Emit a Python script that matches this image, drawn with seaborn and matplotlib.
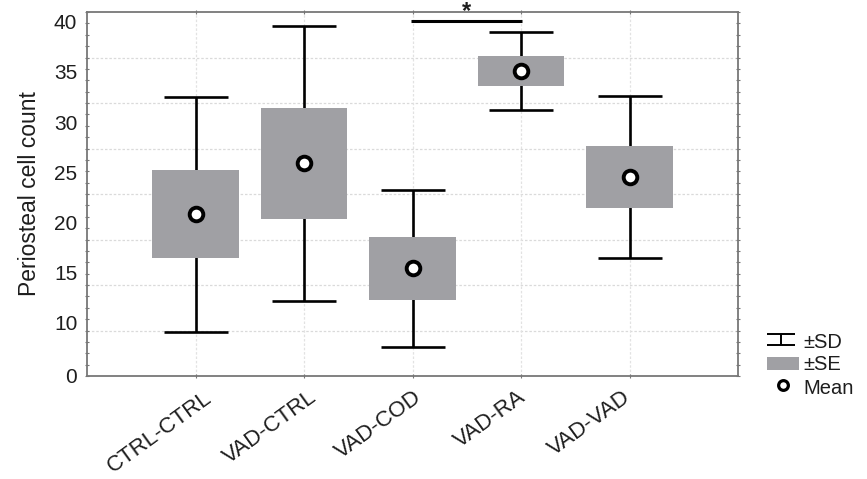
import numpy as np
import pandas as pd
import matplotlib
matplotlib.use("Agg")
import matplotlib.pyplot as plt
import seaborn as sns
from matplotlib.lines import Line2D
from matplotlib.patches import Rectangle
from matplotlib.transforms import ScaledTranslation, Affine2D

# ---- data ----
groups = ["CTRL-CTRL", "VAD-CTRL", "VAD-COD", "VAD-RA", "VAD-VAD"]
means = [20.85, 25.90, 15.45, 35.10, 24.55]
se = [4.35, 5.55, 3.16, 1.53, 3.06]
sd = [11.70, 13.70, 7.82, 3.87, 8.10]
ytick_values = [4.82, 10, 15, 20, 25, 30, 35, 40]
ytick_labels = ["0", "10", "15", "20", "25", "30", "35", "40"]
ylabel = "Periosteal cell count"
legend_labels = ["\u00b1SD", "\u00b1SE", "Mean"]
sig_pair = (2, 3)
sig_y = 40.11

df = pd.DataFrame({"group": groups, "mean": means, "se": se, "sd": sd})

sns.set_style("white")
plt.rcParams["font.family"] = ["Liberation Sans", "DejaVu Sans"]

W, H = 867, 479
fig = plt.figure(figsize=(W / 100, H / 100), dpi=100)
ax = fig.add_axes([87 / W, 1 - 376 / H, (738 - 87) / W, (376 - 12) / H])

x = np.arange(len(groups))
box_color = "#a0a0a4"
text_color = "#1e1e1e"

# SD whiskers
ax.errorbar(x, df["mean"], yerr=df["sd"], fmt="none", ecolor="black",
            elinewidth=1.9, capsize=23, capthick=1.9, zorder=2)
# SE boxes
ax.bar(x, 2 * df["se"], bottom=df["mean"] - df["se"], width=0.8,
       color=box_color, edgecolor="none", zorder=3)
# Mean markers
sns.pointplot(data=df, x="group", y="mean", order=groups, linestyle="none",
              marker="o", markersize=9.8, markerfacecolor="white",
              markeredgecolor="black", markeredgewidth=2.8, color="black",
              errorbar=None, ax=ax, zorder=5)

ylim = (4.721, 40.976)
ax.set_xlim(-1, 5)
ax.set_ylim(*ylim)

# grid
for gy in np.linspace(ylim[0], ylim[1], 9)[1:-1]:
    ax.axhline(gy, color="#dadada", lw=0.9, ls=(0, (2, 1.5)), zorder=0)
for gx in x:
    ax.axvline(gx, color="#e2e2e2", lw=0.9, ls=(0, (2, 1.5)), zorder=0)

# ticks
ax.set_yticks(ytick_values)
ax.set_yticklabels(ytick_labels, fontsize=15, color=text_color)
ax.set_yticks(np.linspace(ylim[0], ylim[1], 33), minor=True)
ax.tick_params(axis="y", which="major", length=0, pad=7)
ax.tick_params(axis="y", which="minor", length=2.5, direction="inout",
               color="#777777", left=True, right=True, width=0.8)
ax.set_xticks(x)
ax.set_xticklabels(groups, fontsize=16, rotation=36, ha="right", va="center",
                   rotation_mode="anchor", color=text_color)
ax.tick_params(axis="x", which="major", length=3, direction="inout",
               color="#777777", top=True, bottom=True, pad=12.5)
for k, lab in enumerate(ax.get_xticklabels()):
    dx = (14.5 - 4.0 * k) / 100
    lab.set_transform(lab.get_transform() + ScaledTranslation(dx, 0, fig.dpi_scale_trans))
ax.set_xlabel("")
ax.set_ylabel(ylabel, fontsize=16.5, labelpad=9, color=text_color)

for s in ax.spines.values():
    s.set_color("#777777")
    s.set_linewidth(1.3)

# significance bar
ax.plot([sig_pair[0] - 0.01, sig_pair[1] + 0.01], [sig_y, sig_y], color="black",
        lw=2.2, solid_capstyle="butt", zorder=6, clip_on=False)
ax.text((sig_pair[0] + sig_pair[1]) / 2, 40.98, "*", ha="center", va="center",
        fontsize=17, fontweight="bold", color=text_color, clip_on=False, zorder=7)

# legend (drawn in figure pixel coordinates, y measured from top)
px = Affine2D().scale(1 / W, -1 / H).translate(0, 1) + fig.transFigure
for xs, ys in [([767, 795], [334, 334]), ([781, 781], [334, 345]), ([767, 795], [345, 345])]:
    fig.add_artist(Line2D(xs, ys, color="black", lw=1.4, transform=px,
                          solid_capstyle="butt"))
fig.add_artist(Rectangle((767, 357), 32, 13, facecolor=box_color, edgecolor="none",
                         transform=px))
fig.add_artist(Line2D([783], [385], marker="o", markersize=7, markerfacecolor="white",
                      markeredgecolor="black", markeredgewidth=2.3, linestyle="none",
                      transform=px))
for lab, yc in zip(legend_labels, [340.7, 363.0, 386.7]):
    fig.text(803 / W, 1 - (yc + 7.2) / H, lab, fontsize=14.5, ha="left",
             va="baseline", color=text_color)

fig.savefig("out.png", dpi=100)
